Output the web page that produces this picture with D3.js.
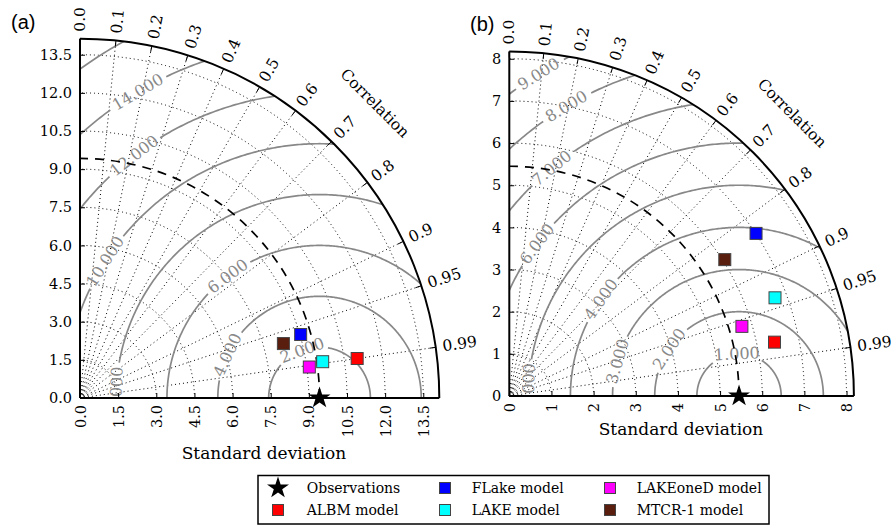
<!DOCTYPE html>
<html><head><meta charset="utf-8">
<script src="https://cdn.jsdelivr.net/npm/d3@7"></script>
<style>
body{margin:0;background:#fff}
svg{display:block}
</style>
</head><body>
<svg id="chart" width="896" height="526"></svg>
<script>
// ---------- data ----------
const modelNames = ["ALBM model", "FLake model", "LAKE model", "LAKEoneD model", "MTCR-1 model"];
const modelColors = ["#ff0000", "#0000ff", "#00ffff", "#ff00ff", "#5a1e0e"];
const refStdA = 9.42;
const refStdB = 5.45;
const stdA  = [11.01, 9.03, 9.65, 9.10, 8.28];
const corrA = [0.990, 0.961, 0.989, 0.991, 0.966];
const stdB  = [6.42, 7.01, 6.72, 5.76, 6.05];
const corrB = [0.980, 0.835, 0.938, 0.958, 0.845];
const corrTicks = [0, 0.1, 0.2, 0.3, 0.4, 0.5, 0.6, 0.7, 0.8, 0.9, 0.95, 0.99];
const corrTickLabels = ["0.0","0.1","0.2","0.3","0.4","0.5","0.6","0.7","0.8","0.9","0.95","0.99"];
const stdTicksA = [0, 1.5, 3.0, 4.5, 6.0, 7.5, 9.0, 10.5, 12.0, 13.5];
const stdTickLabelsA = ["0.0","1.5","3.0","4.5","6.0","7.5","9.0","10.5","12.0","13.5"];
const stdTicksB = [0, 1, 2, 3, 4, 5, 6, 7, 8];
const stdTickLabelsB = ["0","1","2","3","4","5","6","7","8"];
const rmsLevelsA = [2, 4, 6, 8, 10, 12, 14, 16];
const rmsLabelsA = ["2.000","4.000","6.000","8.000","10.000","12.000","14.000",""];
const rmsLevelsB = [1, 2, 3, 4, 5, 6, 7, 8, 9];
const rmsLabelsB = ["1.000","2.000","3.000","4.000","5.000","6.000","7.000","8.000","9.000"];
const legendLabels = ["Observations", "ALBM model", "FLake model", "LAKE model", "LAKEoneD model", "MTCR-1 model"];

// ---------- layout (label placement angles along each RMS circle, degrees) ----------
const labelPhiA = [110, 155, 127, 177.6, 147.5, 127.4, 120.7, null];
const labelPhiB = [93, 146, 164, 145, 177.3, 143, 129.4, 120.8, 121.9];

const SERIF = "DejaVu Serif";
const svg = d3.select("#chart");
const defs = svg.append("defs");

function drawPanel(cfg) {
  const {id, ox, oy, rpx, ref, std, corr, ticks, tickLabels, levels, levelLabels, labelPhi,
         tag, tagX, tagY, xlabelX, xlabelY} = cfg;
  const smax = 1.5 * ref;
  const x = d3.scaleLinear().domain([0, smax]).range([ox, ox + rpx]);
  const y = d3.scaleLinear().domain([0, smax]).range([oy, oy - rpx]);
  const k = rpx / smax;
  const g = svg.append("g");

  const clipId = "clip" + id;
  defs.append("clipPath").attr("id", clipId).append("path")
    .attr("d", `M${ox},${oy} L${ox + rpx},${oy} A${rpx},${rpx} 0 0 0 ${ox},${oy - rpx} Z`);
  const clipLab = "cliplab" + id;
  defs.append("clipPath").attr("id", clipLab).append("rect")
    .attr("x", ox).attr("y", 0).attr("width", rpx + 40).attr("height", oy);

  // dotted std circles
  ticks.filter(t => t > 0).forEach(t => {
    const r = x(t) - ox;
    g.append("path")
      .attr("d", `M${ox + r},${oy} A${r},${r} 0 0 0 ${ox},${oy - r}`)
      .attr("fill", "none").attr("stroke", "#000").attr("stroke-width", 1)
      .attr("stroke-dasharray", "1,3");
  });
  // dotted radial lines
  corrTicks.filter(c => c > 0).forEach(c => {
    const th = Math.acos(c);
    g.append("line")
      .attr("x1", x(0)).attr("y1", y(0))
      .attr("x2", x(smax * Math.cos(th))).attr("y2", y(smax * Math.sin(th)))
      .attr("stroke", "#000").attr("stroke-width", 1).attr("stroke-dasharray", "1,3");
  });

  // RMS contours
  const cg = g.append("g").attr("clip-path", `url(#${clipId})`);
  const lg = g.append("g").attr("clip-path", `url(#${clipLab})`);
  const line = d3.line().x(d => x(d[0])).y(d => y(d[1]));
  levels.forEach((R, i) => {
    let gap = null;
    if (labelPhi[i] !== null && levelLabels[i]) {
      const phi = labelPhi[i] * Math.PI / 180;
      const px = x(ref + R * Math.cos(phi)), py = y(R * Math.sin(phi));
      const rot = -(labelPhi[i] - 90);
      const t = lg.append("text")
        .attr("transform", `translate(${px},${py}) rotate(${rot})`)
        .attr("text-anchor", "middle").attr("dominant-baseline", "central")
        .attr("font-family", SERIF).attr("font-size", 16).attr("fill", "#888")
        .text(levelLabels[i]);
      const w = t.node().getComputedTextLength();
      const half = (w / 2 + 3) / (R * k);
      gap = [phi - half, phi + half];
    }
    const segs = [];
    let cur = [];
    for (let a = 0; a <= 180.001; a += 0.5) {
      const ph = a * Math.PI / 180;
      if (gap && ph > gap[0] && ph < gap[1]) {
        if (cur.length) { segs.push(cur); cur = []; }
        continue;
      }
      cur.push([ref + R * Math.cos(ph), R * Math.sin(ph)]);
    }
    if (cur.length) segs.push(cur);
    segs.forEach(s => {
      cg.append("path").attr("d", line(s))
        .attr("fill", "none").attr("stroke", "#888").attr("stroke-width", 1.7);
    });
  });

  // reference dashed arc
  const rr = x(ref) - ox;
  g.append("path")
    .attr("d", `M${ox + rr},${oy} A${rr},${rr} 0 0 0 ${ox},${oy - rr}`)
    .attr("fill", "none").attr("stroke", "#000").attr("stroke-width", 1.7)
    .attr("stroke-dasharray", "9,7");

  // std axes
  const xa = g.append("g").attr("transform", `translate(0,${oy})`)
    .call(d3.axisBottom(x).tickValues(ticks).tickFormat((d, i) => tickLabels[i])
      .tickSizeInner(-5).tickSizeOuter(0));
  xa.select(".domain").remove();
  xa.attr("font-family", SERIF).attr("font-size", 14.5);
  xa.selectAll("text").attr("transform", "rotate(-90)").attr("text-anchor", "end")
    .attr("x", -7).attr("y", 0).attr("dy", "0.35em");
  const ya = g.append("g").attr("transform", `translate(${ox},0)`)
    .call(d3.axisLeft(y).tickValues(ticks).tickFormat((d, i) => tickLabels[i])
      .tickSizeInner(-5).tickSizeOuter(0));
  ya.select(".domain").remove();
  ya.attr("font-family", SERIF).attr("font-size", 14.5);
  ya.selectAll("text").attr("x", -8);

  g.append("line").attr("x1", ox).attr("y1", oy).attr("x2", ox + rpx).attr("y2", oy)
    .attr("stroke", "#000").attr("stroke-width", 2);
  g.append("line").attr("x1", ox).attr("y1", oy).attr("x2", ox).attr("y2", oy - rpx)
    .attr("stroke", "#000").attr("stroke-width", 2);
  g.append("path")
    .attr("d", `M${ox + rpx},${oy} A${rpx},${rpx} 0 0 0 ${ox},${oy - rpx}`)
    .attr("fill", "none").attr("stroke", "#000").attr("stroke-width", 2);

  // correlation ticks & labels
  corrTicks.forEach((c, i) => {
    const th = Math.acos(c);
    const cs = Math.cos(th), sn = Math.sin(th);
    g.append("line")
      .attr("x1", ox + (rpx - 6) * cs).attr("y1", oy - (rpx - 6) * sn)
      .attr("x2", ox + rpx * cs).attr("y2", oy - rpx * sn)
      .attr("stroke", "#000").attr("stroke-width", 1);
    const lr = rpx + 7;
    g.append("text")
      .attr("transform", `translate(${ox + lr * cs},${oy - lr * sn}) rotate(${-th * 180 / Math.PI})`)
      .attr("text-anchor", "start").attr("dominant-baseline", "central")
      .attr("font-family", SERIF).attr("font-size", 15.5).text(corrTickLabels[i]);
  });
  const cr = rpx * 1.16;
  g.append("text")
    .attr("transform", `translate(${ox + cr * Math.SQRT1_2},${oy - cr * Math.SQRT1_2}) rotate(45)`)
    .attr("text-anchor", "middle").attr("dominant-baseline", "central")
    .attr("font-family", SERIF).attr("font-size", 15.5).text("Correlation");

  g.append("text").attr("x", xlabelX).attr("y", xlabelY).attr("text-anchor", "middle")
    .attr("font-family", SERIF).attr("font-size", 17).text("Standard deviation");
  g.append("text").attr("x", tagX).attr("y", tagY)
    .attr("font-family", "Liberation Sans").attr("font-size", 20).text(tag);

  // markers
  const mk = g.append("g");
  std.forEach((s, i) => {
    const c = corr[i];
    const px = x(s * c), py = y(s * Math.sqrt(1 - c * c));
    mk.append("rect").attr("x", px - 6).attr("y", py - 6).attr("width", 12).attr("height", 12)
      .attr("fill", modelColors[i]).attr("stroke", "#444").attr("stroke-width", 1);
  });
  mk.append("path").attr("d", d3.symbol(d3.symbolStar, 150)())
    .attr("transform", `translate(${x(ref)},${y(0)})`).attr("fill", "#000");
}

drawPanel({id: "a", ox: 80, oy: 398, rpx: 359.3, ref: refStdA, std: stdA, corr: corrA,
  ticks: stdTicksA, tickLabels: stdTickLabelsA, levels: rmsLevelsA, levelLabels: rmsLabelsA,
  labelPhi: labelPhiA, tag: "(a)", tagX: 11, tagY: 29, xlabelX: 264, xlabelY: 459});
drawPanel({id: "b", ox: 509.3, oy: 396, rpx: 344.6, ref: refStdB, std: stdB, corr: corrB,
  ticks: stdTicksB, tickLabels: stdTickLabelsB, levels: rmsLevelsB, levelLabels: rmsLabelsB,
  labelPhi: labelPhiB, tag: "(b)", tagX: 470, tagY: 31, xlabelX: 681, xlabelY: 435});

// ---------- legend ----------
const leg = svg.append("g");
leg.append("rect").attr("x", 258).attr("y", 475.5).attr("width", 511).attr("height", 48.5)
  .attr("fill", "#fff").attr("stroke", "#000").attr("stroke-width", 1.5);
const colMarkX = [278, 445, 610], colTextX = [306.7, 471.7, 636.7], rowY = [488, 510];
legendLabels.forEach((lab, i) => {
  const col = Math.floor(i / 2), row = i % 2;
  const mx = colMarkX[col], my = rowY[row];
  if (i === 0) {
    leg.append("path").attr("d", d3.symbol(d3.symbolStar, 150)())
      .attr("transform", `translate(${mx},${my})`).attr("fill", "#000");
  } else {
    leg.append("rect").attr("x", mx - 5.5).attr("y", my - 5.5).attr("width", 11).attr("height", 11)
      .attr("fill", modelColors[i - 1]).attr("stroke", "#444").attr("stroke-width", 1);
  }
  leg.append("text").attr("x", colTextX[col]).attr("y", my).attr("dominant-baseline", "central")
    .attr("font-family", SERIF).attr("font-size", 14).text(lab);
});
</script>
</body></html>
